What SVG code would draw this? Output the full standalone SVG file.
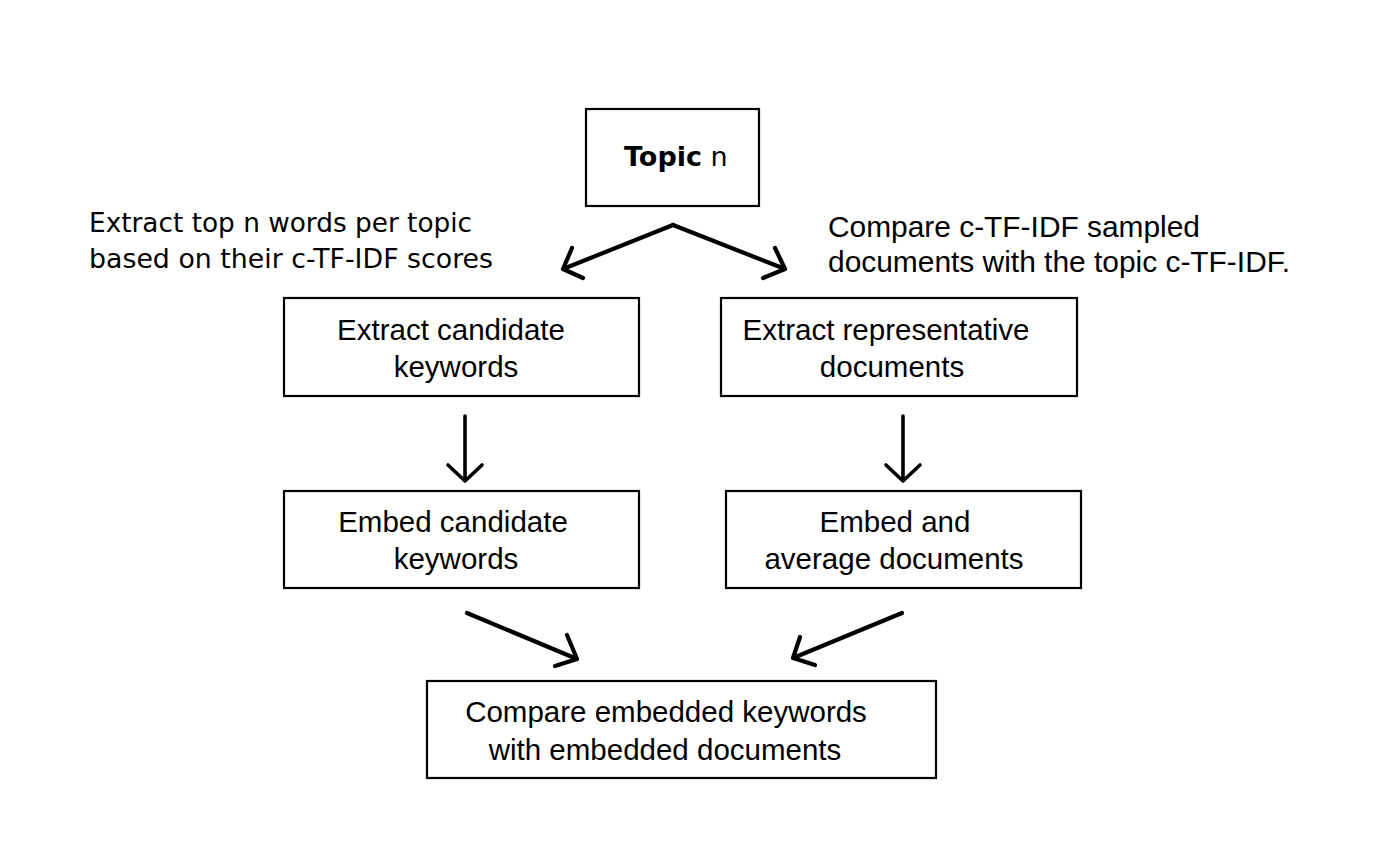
<svg xmlns="http://www.w3.org/2000/svg" width="1378" height="865" viewBox="0 0 1378 865">
  <style>
    .box { fill: #ffffff; stroke: #000000; stroke-width: 2.2; }
    .lbl { font-family: "Liberation Sans", Arial, sans-serif; font-size: 29.5px; fill: #000000; text-anchor: middle; }
    .note { font-family: "DejaVu Sans", Verdana, sans-serif; font-size: 26.5px; fill: #000000; }
    .note-arial { font-family: "Liberation Sans", Arial, sans-serif; font-size: 29.8px; fill: #000000; }
    .arrow { fill: none; stroke: #000000; stroke-width: 4.2; stroke-linecap: round; stroke-linejoin: round; }
    .arrow-thin { fill: none; stroke: #000000; stroke-width: 3.6; stroke-linecap: round; stroke-linejoin: round; }
  </style>
  <rect width="1378" height="865" fill="#ffffff"/>

  <!-- annotations -->
  <text class="note" x="89" y="232" textLength="383" lengthAdjust="spacingAndGlyphs">Extract top n words per topic</text>
  <text class="note" x="89" y="268" textLength="404" lengthAdjust="spacingAndGlyphs">based on their c-TF-IDF scores</text>
  <text class="note-arial" x="828" y="237" textLength="372" lengthAdjust="spacingAndGlyphs">Compare c-TF-IDF sampled</text>
  <text class="note-arial" x="828" y="272" textLength="462" lengthAdjust="spacingAndGlyphs">documents with the topic c-TF-IDF.</text>

  <g id="topic">
    <rect class="box" x="586" y="109" width="173" height="97"/>
    <text x="624" y="166" style="font-family:'DejaVu Sans',Verdana,sans-serif;font-size:27px;fill:#000"><tspan font-weight="bold">Topic</tspan> n</text>
  </g>

  <g id="extract-keywords">
    <rect class="box" x="284" y="298" width="355" height="98"/>
    <text class="lbl" x="451" y="340">Extract candidate</text>
    <text class="lbl" x="456" y="377">keywords</text>
  </g>

  <g id="extract-documents">
    <rect class="box" x="721" y="298" width="356" height="98"/>
    <text class="lbl" x="886" y="340">Extract representative</text>
    <text class="lbl" x="892" y="377">documents</text>
  </g>

  <g id="embed-keywords">
    <rect class="box" x="284" y="491" width="355" height="97"/>
    <text class="lbl" x="453" y="532">Embed candidate</text>
    <text class="lbl" x="456" y="569">keywords</text>
  </g>

  <g id="embed-documents">
    <rect class="box" x="726" y="491" width="355" height="97"/>
    <text class="lbl" x="895" y="532">Embed and</text>
    <text class="lbl" x="894" y="569">average documents</text>
  </g>

  <g id="compare">
    <rect class="box" x="427" y="681" width="509" height="97"/>
    <text class="lbl" x="666" y="722">Compare embedded keywords</text>
    <text class="lbl" x="665" y="760">with embedded documents</text>
  </g>

  <g id="connectors">
    <!-- fork from topic -->
    <path class="arrow" d="M673 225 L563 269 M572 248 L563 269 L583 278"/>
    <path class="arrow" d="M673 225 L785 269 M775 248 L785 269 L763 278"/>
    <!-- downward steps -->
    <path class="arrow-thin" d="M465 416 L465 481 M448 465 L465 481 L482 465"/>
    <path class="arrow-thin" d="M903 416 L903 481 M886 465 L903 481 L920 465"/>
    <!-- merge into comparison -->
    <path class="arrow" d="M467 613 L577 659 M567 635 L577 659 L555 666"/>
    <path class="arrow" d="M902 613 L793 658 M800 637 L793 658 L815 665"/>
  </g>
</svg>
